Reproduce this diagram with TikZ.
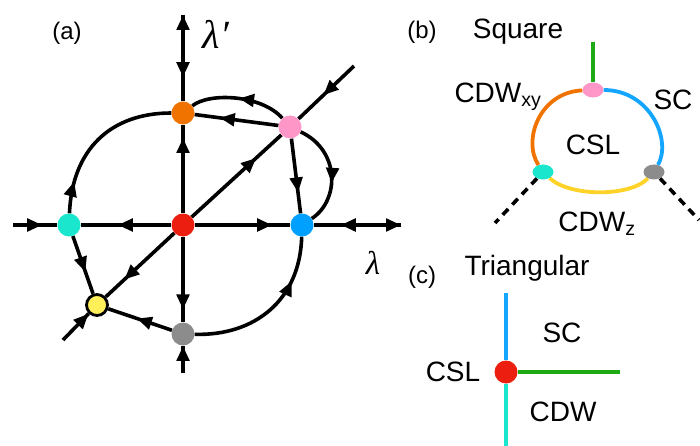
\documentclass[tikz,border=0pt]{standalone}
\usepackage{fontspec}
\setmainfont{Liberation Sans}
\newfontfamily\lamfont{Liberation Serif}
\usetikzlibrary{arrows.meta,decorations.markings,backgrounds,shapes.geometric}
\definecolor{cred}{RGB}{235,30,15}
\definecolor{corange}{RGB}{240,115,0}
\definecolor{cpink}{RGB}{255,150,200}
\definecolor{ccyan}{RGB}{25,230,205}
\definecolor{cblue}{RGB}{0,160,255}
\definecolor{cyellow}{RGB}{255,240,90}
\definecolor{cgray}{RGB}{140,140,140}
\definecolor{cblueb}{RGB}{20,165,255}
\definecolor{cyellowb}{RGB}{255,210,40}
\definecolor{cgreen}{RGB}{30,170,20}
\begin{document}
\begin{tikzpicture}[x=1pt,y=-1pt,
  >={Triangle[length=15pt,width=12.5pt]},
  ln/.style={line width=3.6pt},
  cl/.style={line width=3.8pt},
  dot/.style={circle,inner sep=0pt,minimum size=23pt},
  edot/.style={ellipse,inner sep=0pt,minimum width=21pt,minimum height=15pt},
  marks/.style={postaction={decorate,decoration={markings,#1}}},
  txt/.style={font=\fontsize{28}{30}\selectfont,inner sep=0pt},
  lab/.style={font=\fontsize{24}{26}\selectfont,inner sep=0pt},
  lam/.style={font=\lamfont\itshape\fontsize{40}{42}\selectfont,inner sep=0pt}]
\useasboundingbox (0,0) rectangle (700,446);
% ---------- panel (a) ----------
\coordinate (aT) at (183,15);
\coordinate (aB) at (183,373);
\coordinate (aL) at (13,225);
\coordinate (aR) at (401,225);
\coordinate (dDL) at (63,340);
\coordinate (dUR) at (354,66);
\node[dot,fill=cred] (R) at (183,225) {};
\node[dot,fill=corange] (O) at (183,113) {};
\node[dot,fill=cpink] (P) at (290,127) {};
\node[dot,fill=ccyan] (C) at (69,225) {};
\node[dot,fill=cblue] (Bl) at (302,225) {};
\node[dot,fill=cyellow,draw=black,line width=2.8pt,minimum size=21pt] (Y) at (97,305) {};
\node[dot,fill=cgray] (G) at (183,334) {};
\begin{pgfonlayer}{background}
\draw[ln,marks={mark=at position 0 with {\arrowreversed{>}},mark=at position .72 with {\arrow{>}}}] (aT) -- (O);
\draw[ln,marks={mark=at position .85 with {\arrow{>}}}] (R) -- (O);
\draw[ln,marks={mark=at position .85 with {\arrow{>}}}] (R) -- (G);
\draw[ln,marks={mark=at position .99 with {\arrow{>}}}] (aB) -- (G);
\draw[ln,marks={mark=at position .66 with {\arrow{>}}}] (aL) -- (C);
\draw[ln,marks={mark=at position .59 with {\arrow{>}}}] (R) -- (C);
\draw[ln,marks={mark=at position .81 with {\arrow{>}}}] (R) -- (Bl);
\draw[ln,marks={mark=at position 0 with {\arrowreversed{>}},mark=at position .69 with {\arrow{>}}}] (aR) -- (Bl);
\draw[ln,marks={mark=at position .55 with {\arrow{>}}}] (dUR) -- (P);
\draw[ln,marks={mark=at position .72 with {\arrow{>}}}] (R) -- (P);
\draw[ln,marks={mark=at position .73 with {\arrow{>}}}] (R) -- (Y);
\draw[ln,marks={mark=at position .99 with {\arrow{>}}}] (dDL) -- (Y);
\draw[ln,marks={mark=at position .7 with {\arrow{>}}}] (P) -- (O);
\draw[ln,marks={mark=at position .5 with {\arrow{>}}}] (P) .. controls (262,95) and (210,92) .. (O);
\draw[ln,marks={mark=at position .2 with {\arrow{>}}}] (C) .. controls (72,150) and (110,113) .. (O);
\draw[ln,marks={mark=at position .62 with {\arrow{>}}}] (C) -- (Y);
\draw[ln,marks={mark=at position .55 with {\arrow{>}}}] (G) -- (Y);
\draw[ln,marks={mark=at position .72 with {\arrow{>}}}] (G) .. controls (255,336) and (300,300) .. (Bl);
\draw[ln,marks={mark=at position .72 with {\arrow{>}}}] (P) -- (Bl);
\draw[ln,marks={mark=at position .6 with {\arrow{>}}}] (P) .. controls (340,150) and (340,200) .. (Bl);
\end{pgfonlayer}
\node[lab] (la) at (67,33) {(a)};
\node[lam] (lp) at (216,34) {λ′};
\node[lam,font=\lamfont\itshape\fontsize{33}{35}\selectfont] (ll) at (373,263) {λ};
% ---------- panel (b) ----------
\coordinate (bTop) at (593,42);
\coordinate (bDL) at (495,223);
\coordinate (bDR) at (699,220);
\node[edot,fill=cpink] (bP) at (593,90) {};
\node[edot,fill=ccyan] (bC) at (543,172) {};
\node[edot,fill=cgray] (bG) at (654,172) {};
\begin{pgfonlayer}{background}
\draw[cl,corange] (bP) .. controls (540,92) and (522,140) .. (bC);
\draw[cl,cblueb] (bP) .. controls (650,90) and (672,140) .. (bG);
\draw[cl,cyellowb] (bC) .. controls (570,197) and (630,197) .. (bG);
\draw[cl,cgreen] (bP) -- (bTop);
\draw[ln,dash pattern=on 8pt off 6pt] (bC) -- (bDL);
\draw[ln,dash pattern=on 8pt off 6pt] (bG) -- (bDR);
\end{pgfonlayer}
\node[lab] (lb) at (422,32) {(b)};
\node[txt] (tsq) at (518,32) {Square};
\node[txt] (tcxy) at (498,97) {CDW\textsubscript{xy}};
\node[txt] (tsc) at (673,100) {SC};
\node[txt] (tcsl) at (593,145) {CSL};
\node[txt] (tcz) at (597,224) {CDW\textsubscript{z}};
% ---------- panel (c) ----------
\coordinate (cT) at (506,293);
\coordinate (cB) at (506,446);
\coordinate (cE) at (620,372);
\node[dot,fill=cred] (cR) at (506,372) {};
\begin{pgfonlayer}{background}
\draw[cl,cblueb] (cT) -- (cR);
\draw[cl,ccyan] (cR) -- (cB);
\draw[cl,cgreen] (cR) -- (cE);
\end{pgfonlayer}
\node[lab] (lc) at (422,277) {(c)};
\node[txt] (ttri) at (527,268) {Triangular};
\node[txt] (tsc2) at (562,333) {SC};
\node[txt] (tcsl2) at (453,372) {CSL};
\node[txt] (tcdw) at (563,412) {CDW};
\end{tikzpicture}
\end{document}
